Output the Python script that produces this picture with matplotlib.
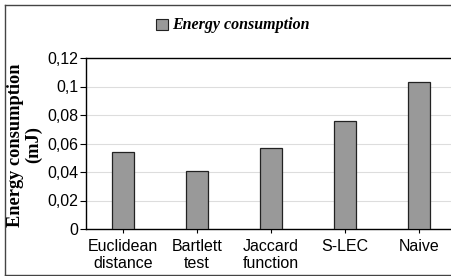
import matplotlib.pyplot as plt
from matplotlib.lines import Line2D
from matplotlib.patches import Rectangle

methods = ["Euclidean\ndistance", "Bartlett\ntest", "Jaccard\nfunction", "S-LEC", "Naive"]
energy = [0.054, 0.0405, 0.057, 0.076, 0.1035]
y_ticks = [0, 0.02, 0.04, 0.06, 0.08, 0.1, 0.12]
y_labels = ["0", "0,02", "0,04", "0,06", "0,08", "0,1", "0,12"]

W, H = 452, 276
fig = plt.figure(figsize=(W / 100, H / 100), dpi=100)
ax = fig.add_axes([86 / W, 47 / H, 370 / W, 171 / H])

x = range(len(methods))
ax.bar(x, energy, width=0.3, color='#999999', edgecolor='#222222', linewidth=0.9,
       zorder=3, label='Energy consumption')

ax.set_xlim(-0.5, len(methods) - 0.5)
ax.set_ylim(0, 0.12)
ax.set_yticks(y_ticks)
ax.set_yticklabels(y_labels, family='Liberation Sans', fontsize=11.5)
ax.set_xticks(list(x))
ax.set_xticklabels(methods, family='Liberation Sans', fontsize=11.5, linespacing=1.2)
ax.tick_params(axis='y', length=4, width=0.8, pad=1.5)
ax.tick_params(axis='x', length=3, width=0.8, pad=4)
ax.grid(axis='y', color='#dddddd', linewidth=0.8, zorder=0)
for s in ['left', 'bottom', 'top']:
    ax.spines[s].set_linewidth(1)
ax.spines['right'].set_visible(False)

# y label, two centred lines
fig.text(16 / W, (H - 145) / H, "Energy consumption", rotation=90, ha='center', va='center',
         family='Liberation Serif', weight='bold', fontsize=13.2)
fig.text(34 / W, (H - 145) / H, "(mJ)", rotation=90, ha='center', va='center',
         family='Liberation Serif', weight='bold', fontsize=13.2)

# legend drawn on top in figure coordinates
fig.patches.append(Rectangle((156 / W, (H - 30) / H), 12 / W, 11 / H, transform=fig.transFigure,
                             facecolor='#999999', edgecolor='#222222', linewidth=0.8))
fig.text(172 / W, (H - 25) / H, "Energy consumption", ha='left', va='center',
         family='Liberation Serif', weight='bold', style='italic', fontsize=11.5)

# outer frame
fig.add_artist(Line2D([5 / W, 5 / W], [1 / H, (H - 5) / H], color='#444444', linewidth=1))
fig.add_artist(Line2D([5 / W, 1], [(H - 5) / H, (H - 5) / H], color='#444444', linewidth=1))
fig.add_artist(Line2D([5 / W, 1], [1 / H, 1 / H], color='#444444', linewidth=1))

fig.savefig('out.png', dpi=100)
